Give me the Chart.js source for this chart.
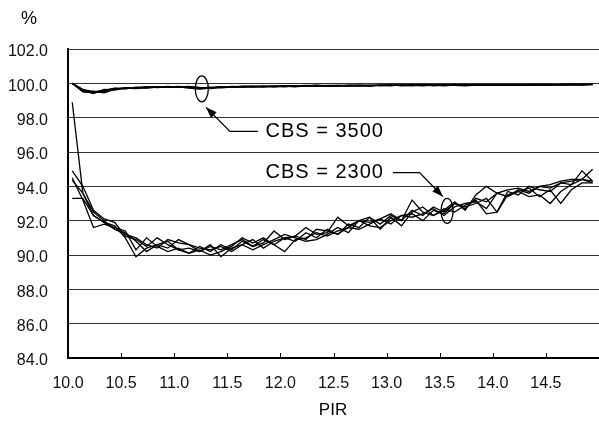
<!DOCTYPE html>
<html>
<head>
<meta charset="utf-8">
<script src="https://cdn.jsdelivr.net/npm/chart.js@4/dist/chart.umd.min.js"></script>
<style>
  html, body { margin: 0; padding: 0; background: #fff; }
</style>
</head>
<body>
<canvas id="chart" width="599" height="435"></canvas>
<script>
// PIR values of the sampled points
const PIR = [
  10.04, 10.14, 10.24, 10.34, 10.44, 10.54, 10.64, 10.74, 10.84, 10.94,
  11.04, 11.14, 11.24, 11.34, 11.44, 11.54, 11.64, 11.74, 11.84, 11.94,
  12.04, 12.14, 12.24, 12.34, 12.44, 12.54, 12.64, 12.74, 12.84, 12.94,
  13.04, 13.14, 13.24, 13.34, 13.44, 13.54, 13.64, 13.74, 13.84, 13.94,
  14.04, 14.14, 14.24, 14.34, 14.44, 14.54, 14.64, 14.74, 14.84, 14.94
];

// CBS = 3500 runs (%)
const cbs3500_a = [100.0, 99.50, 99.45, 99.55, 99.70, 99.70, 99.75, 99.80, 99.75, 99.80,
  99.78, 99.75, 99.70, 99.75, 99.80, 99.80, 99.78, 99.82, 99.80, 99.85,
  99.82, 99.85, 99.88, 99.85, 99.83, 99.86, 99.90, 99.88, 99.85, 99.90,
  99.88, 99.90, 99.92, 99.90, 99.88, 99.90, 99.93, 99.90, 99.92, 99.90,
  99.88, 99.92, 99.93, 99.90, 99.92, 99.94, 99.90, 99.92, 99.95, 99.93];
const cbs3500_b = [100.0, 99.60, 99.40, 99.65, 99.60, 99.72, 99.70, 99.78, 99.80, 99.76,
  99.80, 99.72, 99.66, 99.72, 99.78, 99.76, 99.82, 99.80, 99.84, 99.80,
  99.86, 99.83, 99.85, 99.90, 99.86, 99.88, 99.84, 99.88, 99.90, 99.86,
  99.90, 99.88, 99.86, 99.92, 99.90, 99.86, 99.90, 99.92, 99.88, 99.93,
  99.90, 99.88, 99.91, 99.94, 99.90, 99.92, 99.93, 99.90, 99.93, 99.95];
const cbs3500_c = [100.0, 99.55, 99.55, 99.45, 99.65, 99.75, 99.72, 99.76, 99.78, 99.82,
  99.76, 99.80, 99.74, 99.70, 99.76, 99.82, 99.80, 99.78, 99.83, 99.82,
  99.80, 99.86, 99.84, 99.83, 99.88, 99.85, 99.87, 99.84, 99.88, 99.88,
  99.85, 99.92, 99.88, 99.86, 99.90, 99.92, 99.88, 99.86, 99.90, 99.92,
  99.92, 99.90, 99.88, 99.92, 99.94, 99.90, 99.91, 99.94, 99.92, 99.92];
const cbs3500_d = [100.0, 99.65, 99.50, 99.60, 99.72, 99.68, 99.78, 99.74, 99.80, 99.78,
  99.82, 99.78, 99.72, 99.78, 99.74, 99.78, 99.84, 99.82, 99.78, 99.84,
  99.84, 99.80, 99.86, 99.88, 99.84, 99.82, 99.88, 99.90, 99.86, 99.89,
  99.92, 99.86, 99.90, 99.88, 99.92, 99.88, 99.90, 99.94, 99.91, 99.88,
  99.93, 99.92, 99.90, 99.91, 99.92, 99.88, 99.94, 99.92, 99.90, 99.94];
const cbs3500_e = [100.0, 99.52, 99.48, 99.50, 99.66, 99.74, 99.74, 99.72, 99.78, 99.80,
  99.78, 99.82, 99.76, 99.74, 99.80, 99.77, 99.80, 99.84, 99.82, 99.80,
  99.84, 99.84, 99.82, 99.86, 99.87, 99.88, 99.86, 99.86, 99.84, 99.90,
  99.88, 99.88, 99.90, 99.92, 99.86, 99.90, 99.88, 99.91, 99.93, 99.90,
  99.90, 99.93, 99.92, 99.88, 99.91, 99.92, 99.92, 99.95, 99.91, 99.96];

// CBS = 2300 runs (%)
const cbs2300_a = [98.9, 93.6, 92.3, 91.9, 91.5, 91.3, 90.8, 90.2, 90.6, 90.8,
  90.3, 90.1, 90.5, 90.2, 90.6, 90.3, 90.8, 90.5, 90.9, 90.6,
  91.0, 90.8, 91.3, 91.0, 91.5, 91.2, 91.8, 91.6, 92.2, 91.8,
  92.3, 92.0, 92.6, 92.3, 92.8, 92.5, 93.0, 92.7, 93.3, 93.1,
  93.6, 93.4, 93.8, 93.6, 94.0, 93.9, 94.2, 94.3, 94.4, 94.3];
const cbs2300_b = [94.9, 94.0, 92.6, 92.1, 91.9, 91.1, 90.9, 90.5, 91.0, 90.6,
  90.3, 90.4, 90.2, 90.5, 90.3, 90.6, 90.9, 90.5, 90.7, 91.4,
  90.9, 91.1, 91.6, 91.2, 91.3, 92.2, 91.7, 92.0, 91.9, 92.1,
  92.4, 92.0, 93.2, 92.5, 92.3, 92.6, 93.1, 92.6, 93.5, 94.0,
  93.6, 93.8, 93.9, 93.7, 94.0, 94.1, 94.3, 94.4, 94.4, 94.2];
const cbs2300_c = [94.5, 93.2, 91.6, 91.8, 91.6, 91.4, 90.3, 91.0, 90.5, 90.2,
  90.4, 90.1, 90.3, 90.0, 90.2, 90.5, 91.0, 90.7, 91.0, 90.6,
  90.2, 90.9, 91.0, 91.3, 91.1, 91.4, 91.6, 92.0, 92.2, 91.5,
  92.2, 91.7, 92.5, 92.8, 92.3, 92.7, 92.5, 92.9, 93.2, 92.4,
  92.5, 93.5, 93.7, 93.4, 93.5, 93.0, 93.7, 94.1, 94.9, 94.3];
const cbs2300_d = [94.35, 93.6, 92.5, 92.0, 91.5, 91.2, 91.0, 90.6, 90.4, 90.9,
  90.7, 90.6, 90.2, 90.6, 89.9, 90.4, 90.6, 90.9, 90.4, 90.8,
  91.0, 91.1, 90.9, 91.5, 91.4, 91.2, 91.6, 91.5, 91.8, 92.1,
  91.8, 92.3, 92.4, 92.0, 92.6, 92.4, 93.0, 92.8, 93.0, 93.3,
  92.5, 93.7, 93.5, 94.0, 93.8, 93.7, 94.2, 94.1, 94.4, 95.0];
const cbs2300_e = [93.3, 93.3, 92.3, 91.9, 91.7, 91.0, 89.9, 90.4, 90.6, 90.4,
  90.9, 90.6, 90.4, 90.3, 90.5, 90.2, 90.6, 90.3, 90.6, 90.9,
  91.2, 91.0, 90.8, 90.9, 91.2, 91.6, 91.3, 92.0, 91.7, 91.6,
  92.0, 92.3, 92.2, 92.4, 92.7, 92.3, 92.8, 93.0, 93.1, 92.7,
  93.6, 93.4, 93.7, 93.9, 93.4, 93.8, 93.0, 93.8, 94.2, 94.2];

const SERIES = [cbs3500_a, cbs3500_b, cbs3500_c, cbs3500_d, cbs3500_e,
                cbs2300_a, cbs2300_b, cbs2300_c, cbs2300_d, cbs2300_e];

const FONT = "'Liberation Sans', Arial, sans-serif";

// ── Annotations : légendes, ellipses, flèches ──────────────────────
function arrowHead(ctx, x0, y0, x1, y1) {
  const a = Math.atan2(y1 - y0, x1 - x0), len = 11, w = 4;
  ctx.beginPath();
  ctx.moveTo(x1, y1);
  ctx.lineTo(x1 - len * Math.cos(a) + w * Math.sin(a), y1 - len * Math.sin(a) - w * Math.cos(a));
  ctx.lineTo(x1 - len * Math.cos(a) - w * Math.sin(a), y1 - len * Math.sin(a) + w * Math.cos(a));
  ctx.closePath();
  ctx.fill();
}

const decor = {
  id: "decor",
  afterDraw(chart) {
    const { ctx, chartArea: area, scales: { x, y } } = chart;
    ctx.save();
    ctx.strokeStyle = "#000";
    ctx.fillStyle = "#000";

    // petites graduations vers l'intérieur
    ctx.lineWidth = 1;
    for (let v = 10.5; v < 15; v += 0.5) {
      const px = Math.round(x.getPixelForValue(v)) + 0.5;
      ctx.beginPath();
      ctx.moveTo(px, area.bottom);
      ctx.lineTo(px, area.bottom - 5);
      ctx.stroke();
    }

    // titres d'axes
    ctx.font = "18px " + FONT;
    ctx.textAlign = "center";
    ctx.textBaseline = "middle";
    ctx.fillText("%", 29, 19);
    ctx.font = "17px " + FONT;
    ctx.fillText("PIR", 333, 410);

    // CBS = 3500
    ctx.lineWidth = 1.3;
    const e1x = x.getPixelForValue(11.26), e1y = y.getPixelForValue(99.68);
    ctx.beginPath();
    ctx.ellipse(e1x, e1y, 6.5, 13, 0, 0, Math.PI * 2);
    ctx.stroke();
    const t1 = [x.getPixelForValue(11.30), y.getPixelForValue(98.6)];
    const k1 = [x.getPixelForValue(11.525), y.getPixelForValue(97.2)];
    const s1 = [x.getPixelForValue(11.79), y.getPixelForValue(97.2)];
    ctx.beginPath();
    ctx.moveTo(s1[0], s1[1]);
    ctx.lineTo(k1[0], k1[1]);
    ctx.lineTo(t1[0], t1[1]);
    ctx.stroke();
    arrowHead(ctx, k1[0], k1[1], t1[0], t1[1]);

    // CBS = 2300
    const e2x = x.getPixelForValue(13.57), e2y = y.getPixelForValue(92.57);
    ctx.beginPath();
    ctx.ellipse(e2x, e2y, 6, 12.5, 0, 0, Math.PI * 2);
    ctx.stroke();
    const s2 = [x.getPixelForValue(13.06), y.getPixelForValue(94.8)];
    const k2 = [x.getPixelForValue(13.31), y.getPixelForValue(94.8)];
    const t2 = [x.getPixelForValue(13.53), y.getPixelForValue(93.41)];
    ctx.beginPath();
    ctx.moveTo(s2[0], s2[1]);
    ctx.lineTo(k2[0], k2[1]);
    ctx.lineTo(t2[0], t2[1]);
    ctx.stroke();
    arrowHead(ctx, k2[0], k2[1], t2[0], t2[1]);

    ctx.font = "20px " + FONT;
    ctx.letterSpacing = "1px";
    ctx.textAlign = "left";
    ctx.fillText("CBS = 3500", x.getPixelForValue(11.86), y.getPixelForValue(97.2));
    ctx.fillText("CBS = 2300", x.getPixelForValue(11.86), y.getPixelForValue(94.8));
    ctx.restore();
  }
};

new Chart(document.getElementById("chart"), {
  type: "line",
  data: {
    datasets: SERIES.map(s => ({
      data: s.map((v, i) => ({ x: PIR[i], y: v })),
      borderColor: "#000",
      borderWidth: 1.3,
      pointRadius: 0,
      tension: 0,
      fill: false,
    }))
  },
  options: {
    responsive: false,
    animation: false,
    devicePixelRatio: 1,
    layout: { padding: { top: 49, left: 0, right: 0, bottom: 0 } },
    plugins: { legend: { display: false }, tooltip: { enabled: false } },
    scales: {
      x: {
        type: "linear",
        min: 10, max: 15,
        afterFit: s => { s.height = 77; s.paddingLeft = 0; s.paddingRight = 0; },
        border: { color: "#000", width: 2 },
        grid: { display: false, drawTicks: false },
        ticks: {
          stepSize: 0.5,
          padding: 16,
          color: "#111",
          font: { family: FONT, size: 16 },
          maxRotation: 0,
          callback: v => v >= 15 ? "" : v.toFixed(1),
        },
      },
      y: {
        min: 84, max: 102,
        afterFit: s => { s.width = 68; },
        border: { color: "#000", width: 2 },
        grid: { color: "#333", lineWidth: 1, drawTicks: false },
        ticks: {
          stepSize: 2,
          padding: 20,
          labelOffset: 3,
          color: "#111",
          font: { family: FONT, size: 16 },
          callback: v => v.toFixed(1),
        },
      },
    },
  },
  plugins: [decor],
});
</script>
</body>
</html>
